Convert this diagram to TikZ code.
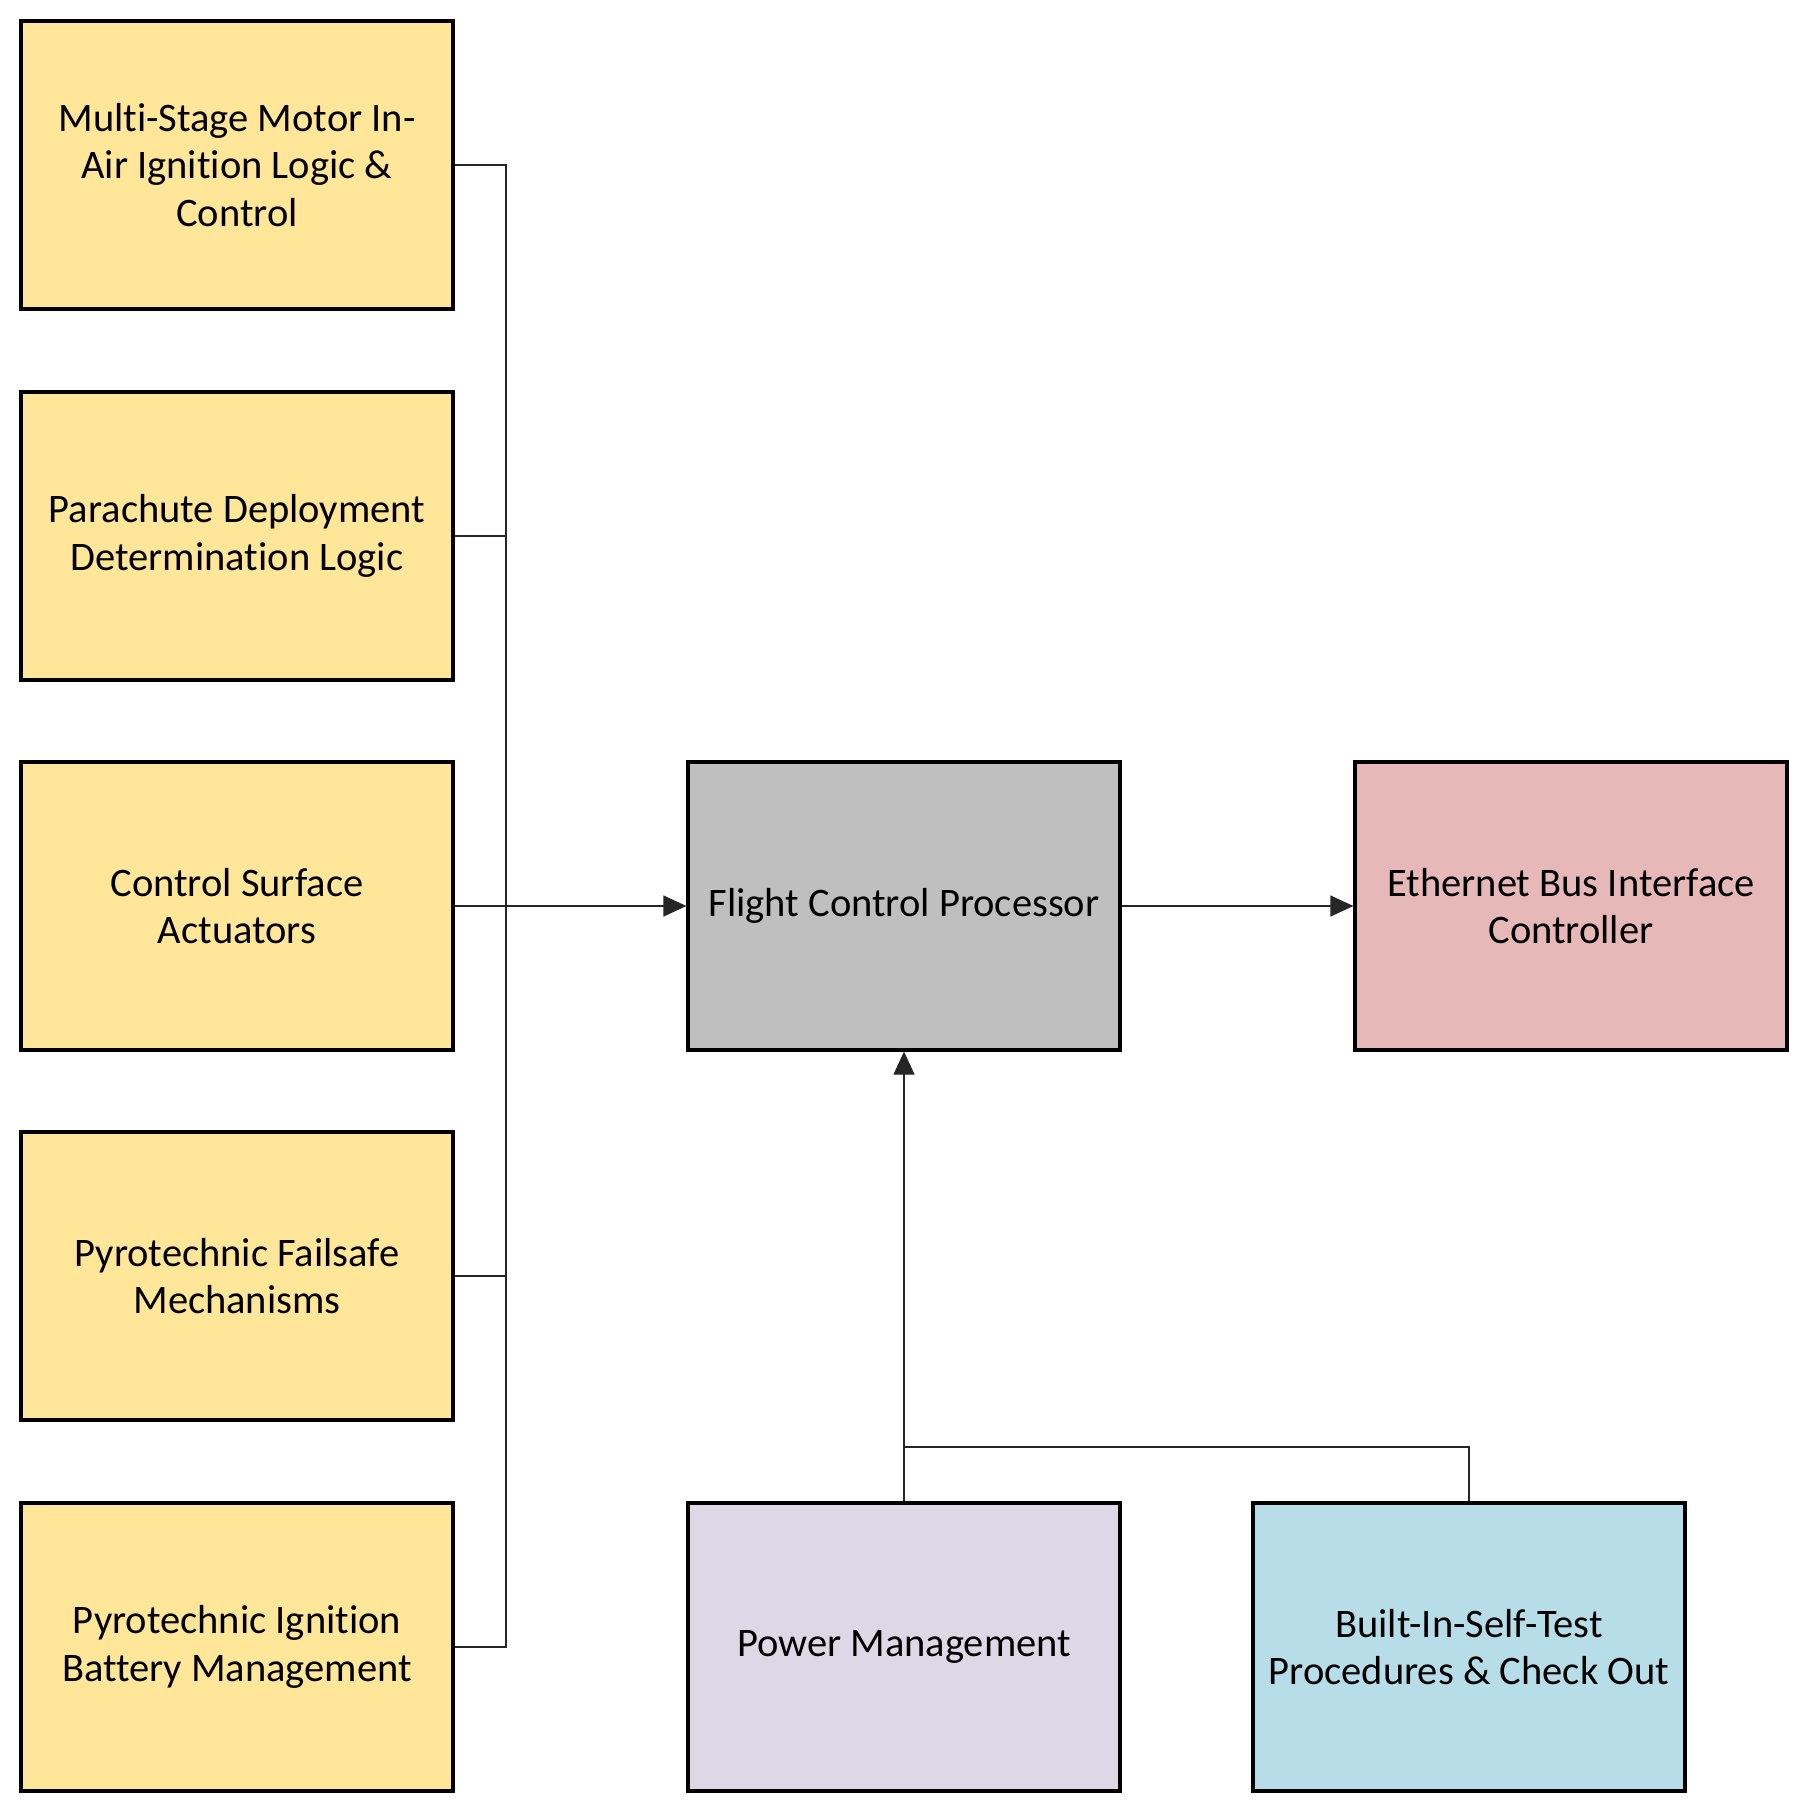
\documentclass[tikz,border=0pt]{standalone}
\usepackage{fontspec}
\setmainfont[Ligatures=NoCommon]{Carlito}
\usetikzlibrary{arrows.meta}
\definecolor{fillyellow}{HTML}{FFE699}
\definecolor{fillgray}{HTML}{BFBFBF}
\definecolor{fillpink}{HTML}{E6B8B7}
\definecolor{filllilac}{HTML}{DDD8E6}
\definecolor{fillblue}{HTML}{B7DEE8}
\begin{document}
\begin{tikzpicture}[x=1pt,y=-1pt,
  block/.style={draw=black,line width=3.2pt,minimum width=432pt,minimum height=288pt,
    inner sep=0pt,align=center,font=\fontsize{40.5pt}{47.5pt}\selectfont},
  wire/.style={draw=black!85,line width=1.2pt},
  flow/.style={wire,-{Triangle[length=23pt,width=21pt]}}]
\useasboundingbox (0,0) rectangle (1809,1813);
\fill[white] (0,0) rectangle (1809,1813);

% input modules on the left
\node[block,fill=fillyellow] (ign)  at (237,165)  {Multi-Stage Motor In-\\Air Ignition Logic \&\\Control};
\node[block,fill=fillyellow] (para) at (237,536)  {Parachute Deployment\\Determination Logic};
\node[block,fill=fillyellow] (csa)  at (237,906)  {Control Surface\\Actuators};
\node[block,fill=fillyellow] (fail) at (237,1276) {Pyrotechnic Failsafe\\Mechanisms};
\node[block,fill=fillyellow] (batt) at (237,1647) {Pyrotechnic Ignition\\Battery Management};

% processor and bus interface
\node[block,fill=fillgray] (fcp) at (904,906)  {Flight Control Processor};
\node[block,fill=fillpink] (eth) at (1571,906) {Ethernet Bus Interface\\Controller};

% support modules
\node[block,fill=filllilac] (pwr)  at (904,1647)  {Power Management};
\node[block,fill=fillblue]  (bist) at (1469,1647) {Built-In-Self-Test\\Procedures \& Check Out};

% collecting bus for the left-hand modules
\coordinate (busx) at (506,0);
\draw[wire] (ign.east)  -- (ign.east -| busx)  -- (batt.east -| busx) -- (batt.east);
\draw[wire] (para.east) -- (para.east -| busx);
\draw[wire] (fail.east) -- (fail.east -| busx);
\draw[flow] (csa.east) -- (fcp.west);

\draw[flow] (fcp.east) -- (eth.west);

% power and self-test feed into the processor
\coordinate (join) at (904,1447);
\draw[flow] (pwr.north) -- (fcp.south);
\draw[wire] (bist.north) |- (join);
\end{tikzpicture}
\end{document}
